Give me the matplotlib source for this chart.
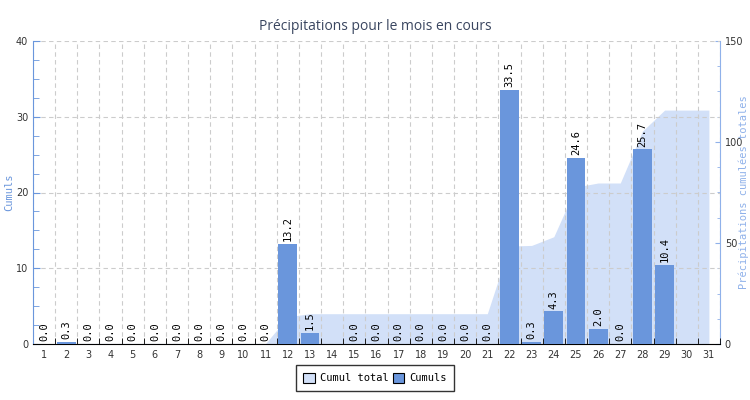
import numpy as np
import matplotlib
matplotlib.use('Agg')
from matplotlib import pyplot as plt
from matplotlib.patches import Patch
from matplotlib.ticker import MultipleLocator

# Daily precipitation (None = no data)
days = list(range(1, 32))
cumuls = [0.0, 0.3, 0.0, 0.0, 0.0, 0.0, 0.0, 0.0, 0.0, 0.0, 0.0,
          13.2, 1.5, None, 0.0, 0.0, 0.0, 0.0, 0.0, 0.0, 0.0,
          33.5, 0.3, 4.3, 24.6, 2.0, 0.0, 25.7, 10.4, None, None]
# running total
cumul_total = [0.0, 0.3, 0.3, 0.3, 0.3, 0.3, 0.3, 0.3, 0.3, 0.3, 0.3,
               13.5, 15.0, 15.0, 15.0, 15.0, 15.0, 15.0, 15.0, 15.0, 15.0,
               48.5, 48.8, 53.1, 77.7, 79.7, 79.7, 105.4, 115.8, 115.8, 115.8]

bar_color = '#6a96dc'
area_color = '#d2e0f8'
mono = 'DejaVu Sans Mono'

fig = plt.figure(figsize=(7.5, 4), dpi=100)
ax = fig.add_axes([0.044, 0.14, 0.916, 0.7575])
ax2 = ax.twinx()

# area on the right axis, behind everything
ax2.fill_between(days, cumul_total, 0, color=area_color, linewidth=0)
ax2.set_ylim(0, 150)
ax2.yaxis.set_major_locator(MultipleLocator(50))
ax2.yaxis.set_minor_locator(MultipleLocator(12.5))

ax.set_zorder(ax2.get_zorder() + 1)
ax.patch.set_visible(False)

x_bar = [d for d, v in zip(days, cumuls) if v is not None]
v_bar = [v for v in cumuls if v is not None]
ax.bar(x_bar, v_bar, width=0.85, color=bar_color, zorder=3)
for d, v in zip(x_bar, v_bar):
    ax.annotate(f'{v:.1f}', (d, v), xytext=(0, 2), textcoords='offset points',
                rotation=90, ha='center', va='bottom', fontsize=7.5,
                family=mono, color='black', zorder=4)

ax.set_xlim(0.5, 31.5)
ax.set_ylim(0, 40)
ax.yaxis.set_major_locator(MultipleLocator(10))
ax.yaxis.set_minor_locator(MultipleLocator(2.5))
ax.set_xticks(days)
ax.set_xticks(np.arange(0.5, 32, 1), minor=True)
ax.tick_params(axis='x', which='major', length=0, labelsize=7, colors='#333333', pad=4)
ax.tick_params(axis='x', which='minor', length=4, direction='in', color='black')
ax.tick_params(axis='y', which='both', direction='in', color=bar_color, labelsize=7,
               labelcolor='#333333')
ax.tick_params(axis='y', which='major', length=5)
ax.tick_params(axis='y', which='minor', length=4)
ax2.tick_params(axis='y', which='both', direction='in', color='#8fb1ea', labelsize=7,
                labelcolor='#333333')

# grid: horizontal at left majors, vertical at day boundaries
ax.grid(axis='y', which='major', linestyle=(0, (4, 3)), color='#cccccc', linewidth=0.8, zorder=0)
ax.grid(axis='x', which='minor', linestyle=(0, (4, 3)), color='#cccccc', linewidth=0.8, zorder=0)
ax.grid(axis='x', which='major', visible=False)

ax.spines['top'].set_visible(False)
ax2.spines['top'].set_visible(False)
ax.spines['left'].set_color(bar_color)
ax.spines['bottom'].set_color('black')
ax.spines['right'].set_visible(False)
ax2.spines['left'].set_visible(False)
ax2.spines['bottom'].set_visible(False)
ax2.spines['right'].set_color('#8fb1ea')

ax.set_ylabel('Cumuls', family=mono, fontsize=7.5, color=bar_color)
ax.yaxis.set_label_coords(-0.028, 0.5)
ax2.set_ylabel('Précipitations cumulées totales', family=mono, fontsize=7.5,
               color='#8fb1ea', rotation=90)
ax2.yaxis.set_label_coords(1.027, 0.5)

fig.text(0.5, 0.935, 'Précipitations pour le mois en cours', ha='center', va='center',
         fontsize=10, color='#3a4660', family='Open Sans')

handles = [Patch(facecolor=area_color, edgecolor='black', linewidth=0.8, label='Cumul total'),
           Patch(facecolor=bar_color, edgecolor='black', linewidth=0.8, label='Cumuls')]
leg = fig.legend(handles=handles, loc='center', bbox_to_anchor=(0.5, 0.055), ncol=2,
                 prop={'family': mono, 'size': 7.5}, frameon=True, fancybox=False,
                 edgecolor='black', handlelength=1.1, handleheight=1.1, handletextpad=0.5,
                 columnspacing=0.4, borderpad=0.7)
leg.get_frame().set_linewidth(1)

fig.savefig('out.png', dpi=100, facecolor='white')
